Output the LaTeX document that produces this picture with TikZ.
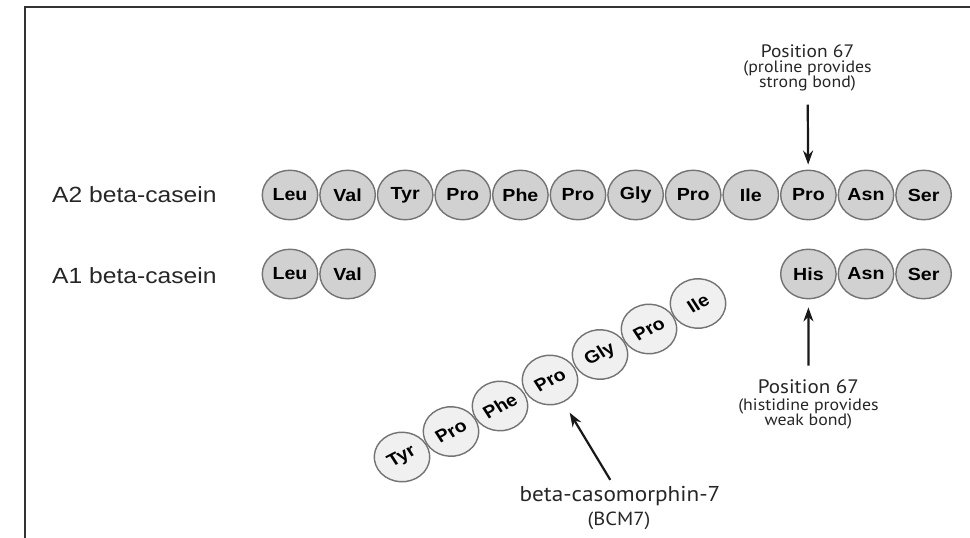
\documentclass[tikz,border=0pt]{standalone}
\usepackage{fontspec}
\setmainfont{Liberation Sans}
\newfontfamily\notefont{PT Sans}
\usetikzlibrary{arrows.meta}

\tikzset{
  acid/.style={circle, draw=black!55, line width=1.4pt, fill=black!18,
    minimum size=49.5pt, inner sep=0pt, xscale=1.12,
    font=\fontsize{17.5}{19}\selectfont\bfseries},
  freed/.style={acid, fill=black!6},
  caselab/.style={anchor=west, inner sep=0pt, xscale=1.12, text=black!85,
    font=\fontsize{22}{24}\selectfont},
  note/.style={inner sep=1pt, xscale=1.08, text=black!85, align=center,
    font=\notefont\fontsize{16.5}{15.5}\selectfont},
  notehead/.style={note, font=\notefont\fontsize{19.5}{20}\selectfont},
  pointer/.style={->, line width=2.2pt, black!90},
}

\begin{document}
\begin{tikzpicture}[x=1pt, y=-1pt, >={Stealth[length=14pt, width=10pt]}]
\useasboundingbox (0,0) rectangle (970,538);
\draw[line width=2.5pt, black!80] (25,538) -- (25,7) -- (970,7);

\node[caselab] (a2lab) at (52,195) {A2 beta-casein};
\node[caselab] (a1lab) at (52,276) {A1 beta-casein};

% A2 chain
\node[acid] (a2leu)  at (290,195) {Leu};
\node[acid] (a2val)  at (347.6,195) {Val};
\node[acid] (a2tyr)  at (405.2,195) {Tyr};
\node[acid] (a2pro1) at (462.8,195) {Pro};
\node[acid] (a2phe)  at (520.4,195) {Phe};
\node[acid] (a2pro2) at (578,195) {Pro};
\node[acid] (a2gly)  at (635.6,195) {Gly};
\node[acid] (a2pro3) at (693.2,195) {Pro};
\node[acid] (a2ile)  at (750.8,195) {Ile};
\node[acid] (a2pro4) at (808.4,195) {Pro};
\node[acid] (a2asn)  at (866,195) {Asn};
\node[acid] (a2ser)  at (923.6,195) {Ser};

% A1 chain
\node[acid] (a1leu) at (290,274) {Leu};
\node[acid] (a1val) at (347.6,274) {Val};
\node[acid] (a1his) at (808.4,274) {His};
\node[acid] (a1asn) at (866,274) {Asn};
\node[acid] (a1ser) at (923.6,274) {Ser};

% released peptide
\node[freed, rotate=30] (bcmtyr)  at (402,457) {Tyr};
\node[freed, rotate=30] (bcmpro1) at (451,431.5) {Pro};
\node[freed, rotate=30] (bcmphe)  at (500,406) {Phe};
\node[freed, rotate=30] (bcmpro2) at (550,380) {Pro};
\node[freed, rotate=30] (bcmgly)  at (600,354.5) {Gly};
\node[freed, rotate=30] (bcmpro3) at (649,329) {Pro};
\node[freed, rotate=30] (bcmile)  at (698,303.5) {Ile};

% notes and arrows
\node[notehead, font=\notefont\fontsize{18}{18}\selectfont] (top67) at (807.5,51) {Position 67};
\node[note] (top67note) at (807.5,76) {(proline provides\\strong bond)};
\draw[pointer, shorten <=12pt, shorten >=5pt] (top67note) -- (a2pro4);

\node[notehead] (low67) at (808.4,387) {Position 67};
\node[note] (low67note) at (808.4,414) {(histidine provides\\weak bond)};
\draw[pointer, shorten <=13pt, shorten >=8pt] (low67) -- (a1his);

\node[note, font=\notefont\fontsize{21.5}{22}\selectfont] (bcm) at (620,496) {beta-casomorphin-7};
\node[note, font=\notefont\fontsize{19}{20}\selectfont] (bcmabbr) at (619,521) {(BCM7)};
\draw[pointer, shorten <=6pt, shorten >=12pt] (bcm) -- (bcmpro2);
\end{tikzpicture}
\end{document}
